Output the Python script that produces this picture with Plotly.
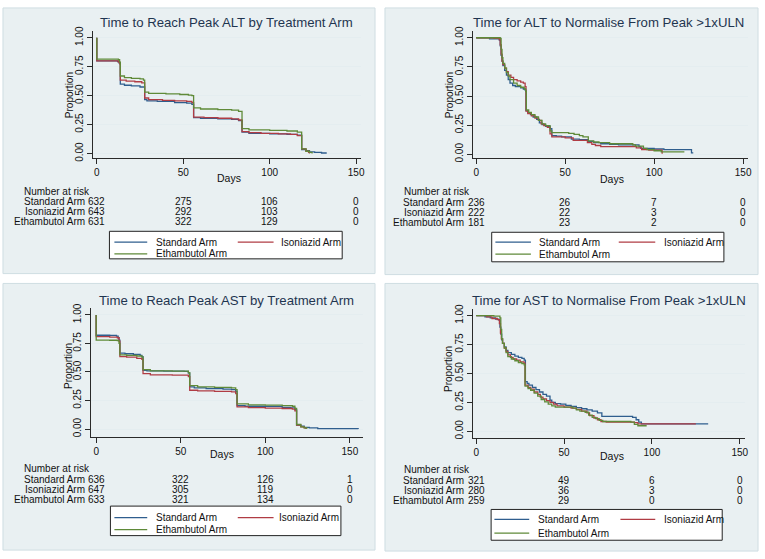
import plotly.graph_objects as go

W, H = 765, 559

# ---------------- data ----------------
arms = ["Standard Arm", "Isoniazid Arm", "Ethambutol Arm"]
titles = ["Time to Reach Peak ALT by Treatment Arm",
          "Time for ALT to Normalise From Peak >1xULN",
          "Time to Reach Peak AST by Treatment Arm",
          "Time for AST to Normalise From Peak >1xULN"]
x_ticks = [0, 50, 100, 150]
risk_times = [0, 50, 100, 150]
y_ticks = [0, 0.25, 0.5, 0.75, 1.0]
y_tick_labels = ["0.00", "0.25", "0.50", "0.75", "1.00"]

# Panel 1: time to reach peak ALT
alt_peak_std_t = [0, 0, 12, 13, 13.6, 16, 20, 25, 27.7, 29, 35, 45, 52, 55, 56, 60, 70, 78, 82, 84, 88, 100, 110, 116, 118.5, 121, 123, 126, 130, 133]
alt_peak_std_s = [1.0, 0.80, 0.795, 0.78, 0.60, 0.59, 0.585, 0.575, 0.465, 0.455, 0.45, 0.44, 0.435, 0.425, 0.31, 0.305, 0.30, 0.295, 0.285, 0.185, 0.175, 0.17, 0.165, 0.16, 0.035, 0.025, 0.015, 0.01, 0.005, 0.005]
alt_peak_iso_t = [0, 0, 12.5, 13.2, 13.6, 17, 22, 26, 27.7, 30, 38, 45, 52, 55, 56, 62, 70, 78, 82, 84, 88, 95, 105, 112, 116, 118.5, 121, 122.5, 123]
alt_peak_iso_s = [1.0, 0.80, 0.79, 0.775, 0.635, 0.625, 0.62, 0.61, 0.48, 0.465, 0.46, 0.455, 0.45, 0.44, 0.315, 0.31, 0.305, 0.30, 0.29, 0.19, 0.18, 0.175, 0.17, 0.165, 0.155, 0.04, 0.02, 0.01, 0.0]
alt_peak_eth_t = [0, 0, 12.5, 13.2, 13.6, 16, 20, 25, 27, 27.7, 30, 40, 48, 53, 55, 56, 60, 70, 78, 82, 84, 88, 100, 110, 116, 118.5, 121, 123, 124.5]
alt_peak_eth_s = [1.0, 0.815, 0.81, 0.79, 0.67, 0.655, 0.65, 0.645, 0.635, 0.53, 0.52, 0.515, 0.51, 0.505, 0.50, 0.395, 0.385, 0.38, 0.375, 0.365, 0.215, 0.205, 0.20, 0.195, 0.185, 0.04, 0.02, 0.01, 0.0]
risk_alt_peak = [[632, 275, 106, 0], [643, 292, 103, 0], [631, 322, 129, 0]]

# Panel 2: time for ALT to normalise
alt_norm_std_t = [0, 7.5, 13, 13.5, 14, 14.5, 15, 16, 17, 18, 19, 20.5, 22, 25, 26.5, 27.5, 28, 29, 30.5, 32, 34, 35.5, 37, 39, 41.5, 42.5, 45, 48, 53.5, 58, 63, 66, 70, 75, 80, 91.5, 92.5, 100, 105.5, 121, 122]
alt_norm_std_s = [1.0, 0.99, 0.98, 0.93, 0.85, 0.80, 0.76, 0.72, 0.68, 0.64, 0.61, 0.59, 0.58, 0.57, 0.56, 0.55, 0.375, 0.355, 0.34, 0.32, 0.30, 0.27, 0.255, 0.24, 0.22, 0.16, 0.155, 0.15, 0.13, 0.125, 0.11, 0.10, 0.09, 0.085, 0.08, 0.065, 0.05, 0.045, 0.04, 0.012, 0.012]
alt_norm_iso_t = [0, 10, 13, 13.5, 14, 14.5, 15, 16, 17, 18, 19.5, 21, 23, 25, 26.5, 27.5, 28, 29, 31, 33, 35, 36.5, 38, 40, 41.5, 42.5, 50, 54.5, 62.5, 65, 67, 70, 90, 93, 97, 104.5]
alt_norm_iso_s = [1.0, 0.995, 0.985, 0.94, 0.86, 0.80, 0.77, 0.74, 0.71, 0.68, 0.66, 0.64, 0.63, 0.62, 0.61, 0.58, 0.37, 0.35, 0.33, 0.31, 0.29, 0.26, 0.245, 0.23, 0.175, 0.15, 0.14, 0.12, 0.10, 0.085, 0.075, 0.065, 0.055, 0.04, 0.035, 0.005]
alt_norm_eth_t = [0, 13.5, 14, 14.5, 15, 16, 17, 18, 19, 21, 23, 25, 27, 27.8, 28.2, 29.5, 31, 33, 35, 37, 39, 41.5, 42.5, 52, 55, 58, 60, 63, 66, 69, 75, 88, 89.5, 94, 96, 100, 104, 117]
alt_norm_eth_s = [1.0, 0.995, 0.90, 0.83, 0.78, 0.74, 0.70, 0.67, 0.64, 0.61, 0.59, 0.575, 0.56, 0.54, 0.38, 0.36, 0.34, 0.32, 0.29, 0.26, 0.245, 0.20, 0.185, 0.18, 0.17, 0.16, 0.15, 0.115, 0.105, 0.10, 0.09, 0.08, 0.07, 0.05, 0.04, 0.03, 0.02, 0.02]
risk_alt_norm = [[236, 26, 7, 0], [222, 22, 3, 0], [181, 23, 2, 0]]

# Panel 3: time to reach peak AST
ast_peak_std_t = [0, 0, 8, 12, 13, 13.5, 14, 17, 22, 26, 27, 27.7, 30, 40, 52, 54.5, 55.3, 58, 65, 75, 80, 82.5, 83.3, 88, 100, 110, 115, 117.5, 118.5, 121, 123, 126, 131, 155]
ast_peak_std_s = [1.0, 0.822, 0.82, 0.815, 0.80, 0.78, 0.665, 0.66, 0.655, 0.645, 0.635, 0.515, 0.51, 0.507, 0.505, 0.49, 0.37, 0.36, 0.355, 0.35, 0.345, 0.33, 0.205, 0.20, 0.198, 0.19, 0.185, 0.17, 0.035, 0.025, 0.015, 0.01, 0.004, 0.002]
ast_peak_iso_t = [0, 0, 8, 12.5, 13.5, 14, 18, 24, 27, 27.7, 32, 45, 54.5, 55.3, 60, 70, 80, 82.5, 83.3, 90, 100, 110, 116, 117.5, 118.5, 121, 123, 124]
ast_peak_iso_s = [1.0, 0.81, 0.805, 0.80, 0.77, 0.635, 0.63, 0.62, 0.61, 0.485, 0.475, 0.472, 0.46, 0.34, 0.335, 0.33, 0.325, 0.31, 0.195, 0.188, 0.184, 0.18, 0.175, 0.16, 0.035, 0.02, 0.01, 0.0]
ast_peak_eth_t = [0, 0, 8, 12.5, 13.5, 14, 18, 24, 27, 27.7, 32, 45, 54.5, 55.3, 60, 70, 80, 82.5, 83.3, 90, 100, 110, 116, 117.5, 118.5, 121, 123, 124.5]
ast_peak_eth_s = [1.0, 0.78, 0.778, 0.775, 0.75, 0.65, 0.645, 0.64, 0.63, 0.52, 0.51, 0.507, 0.495, 0.38, 0.37, 0.365, 0.36, 0.345, 0.22, 0.212, 0.21, 0.205, 0.20, 0.18, 0.04, 0.02, 0.01, 0.0]
risk_ast_peak = [[636, 322, 126, 1], [647, 305, 119, 0], [633, 321, 134, 0]]

# Panel 4: time for AST to normalise
ast_norm_std_t = [0, 5, 8, 11, 13, 13.5, 14, 14.5, 15, 16, 17, 18, 20, 22, 24, 26, 27.3, 28, 29, 30, 32, 34, 36, 38, 40, 42, 43, 45, 48, 51, 54, 57, 60, 63, 66, 69, 71.5, 89, 91, 92.5, 94, 132]
ast_norm_std_s = [1.0, 0.99, 0.98, 0.97, 0.96, 0.90, 0.84, 0.79, 0.76, 0.73, 0.70, 0.68, 0.665, 0.65, 0.64, 0.63, 0.615, 0.43, 0.415, 0.40, 0.38, 0.36, 0.34, 0.32, 0.305, 0.27, 0.25, 0.24, 0.235, 0.225, 0.215, 0.205, 0.195, 0.185, 0.175, 0.16, 0.13, 0.12, 0.10, 0.08, 0.065, 0.065]
ast_norm_iso_t = [0, 6, 9, 12, 13.2, 13.8, 14.3, 15, 16, 17, 18, 19.5, 21, 23, 25, 27.2, 27.8, 29.5, 31, 33, 35, 36.5, 38, 40, 42, 44, 46, 50, 54, 57, 60, 63, 64.5, 67, 69, 71, 74, 90, 92, 125]
ast_norm_iso_s = [1.0, 0.99, 0.975, 0.965, 0.93, 0.85, 0.80, 0.76, 0.72, 0.69, 0.66, 0.64, 0.625, 0.615, 0.60, 0.59, 0.40, 0.38, 0.365, 0.34, 0.32, 0.295, 0.28, 0.265, 0.25, 0.235, 0.22, 0.21, 0.20, 0.19, 0.175, 0.16, 0.135, 0.115, 0.10, 0.085, 0.08, 0.075, 0.065, 0.065]
ast_norm_eth_t = [0, 10, 13.5, 14, 14.5, 15, 16, 17, 18, 20, 22, 24, 26, 27.3, 27.8, 29.5, 31, 33, 35, 37, 39, 41, 43, 45, 55, 57, 59, 62, 64, 66, 68, 70, 72, 88, 90, 92, 97]
ast_norm_eth_s = [1.0, 0.995, 0.98, 0.88, 0.80, 0.76, 0.72, 0.68, 0.645, 0.625, 0.61, 0.595, 0.585, 0.575, 0.39, 0.37, 0.355, 0.33, 0.305, 0.275, 0.255, 0.235, 0.22, 0.21, 0.20, 0.185, 0.175, 0.165, 0.14, 0.12, 0.11, 0.095, 0.085, 0.08, 0.06, 0.048, 0.048]
risk_ast_norm = [[321, 49, 6, 0], [280, 36, 3, 0], [259, 29, 0, 0]]

curves = [
    [(alt_peak_std_t, alt_peak_std_s), (alt_peak_iso_t, alt_peak_iso_s), (alt_peak_eth_t, alt_peak_eth_s)],
    [(alt_norm_std_t, alt_norm_std_s), (alt_norm_iso_t, alt_norm_iso_s), (alt_norm_eth_t, alt_norm_eth_s)],
    [(ast_peak_std_t, ast_peak_std_s), (ast_peak_iso_t, ast_peak_iso_s), (ast_peak_eth_t, ast_peak_eth_s)],
    [(ast_norm_std_t, ast_norm_std_s), (ast_norm_iso_t, ast_norm_iso_s), (ast_norm_eth_t, ast_norm_eth_s)],
]
risks = [risk_alt_peak, risk_alt_norm, risk_ast_peak, risk_ast_norm]

# ---------------- styling / layout geometry (pixels) ----------------
colors = ["#2f5e8e", "#b03c44", "#5f8a38"]
FONT = "Liberation Sans, Arial, sans-serif"
TITLE_COLOR = "#1f3550"
TXT = "#111111"
PANEL_BG = "#e9f0f2"
PANEL_LINE = "#cfdde2"

geo = [
    dict(panel=(3, 3, 377, 273), L=93, R=363, T=26, B=156, x0=97.3, x150=358, y1=33.3, y0=151,
         title=(228, 18), ytitle=(70, 92), days=(230, 176), nar=(22, 189.3), rowx=87.5,
         rows=[199.8, 210.1, 220.4], box=(110, 230, 344, 258), lrows=[241, 253],
         l1=(115, 148, 155), l2=(239, 275, 280)),
    dict(panel=(387, 3, 762, 274), L=475, R=752, T=26, B=156, x0=478.7, x150=747, y1=33.3, y0=151.7,
         title=(612, 18), ytitle=(452, 92), days=(615, 176.5), nar=(404, 190), rowx=468,
         rows=[200.6, 210.9, 221.2], box=(494.3, 231, 727.7, 261), lrows=[241, 253.3],
         l1=(498, 533.7, 539.7), l2=(622, 658.7, 665.3)),
    dict(panel=(3, 283, 377, 554), L=91, R=365, T=308, B=439, x0=96.7, x150=351.7, y1=315, y0=431,
         title=(227.5, 300.7), ytitle=(68.3, 367), days=(223, 456.7), nar=(22, 470.7), rowx=87.5,
         rows=[482.2, 492.5, 502.8], box=(111, 509.3, 342.7, 539.3), lrows=[521, 533.3],
         l1=(115, 148, 155), l2=(239, 275, 278)),
    dict(panel=(387, 283, 762, 555), L=475.3, R=749, T=309, B=440, x0=478.7, x150=743.7, y1=315.7, y0=433.3,
         title=(611.7, 300.7), ytitle=(450.3, 370), days=(615.3, 458.3), nar=(404, 472.5), rowx=468,
         rows=[483.2, 493.5, 503.8], box=(493.7, 512.7, 726, 544), lrows=[522.7, 536.7],
         l1=(497, 532, 539.3), l2=(623.7, 658.7, 665.3)),
]


def fx(x):
    return x / W


def fy(y):
    return 1 - y / H


fig = go.Figure()
shapes = []
annotations = []
layout = dict(width=W, height=H, margin=dict(l=0, r=0, t=0, b=0),
              paper_bgcolor="white", plot_bgcolor="white", showlegend=False,
              font=dict(family=FONT, size=10, color=TXT))

for i, g in enumerate(geo):
    n = i + 1
    xa = "x" if n == 1 else f"x{n}"
    ya = "y" if n == 1 else f"y{n}"
    ppd = (g["x150"] - g["x0"]) / 150.0
    ppy = (g["y0"] - g["y1"])
    xr = [(g["L"] - g["x0"]) / ppd, (g["R"] - g["x0"]) / ppd]
    yr = [(g["y0"] - g["B"]) / ppy, (g["y0"] - g["T"]) / ppy]
    layout[f"xaxis{'' if n == 1 else n}"] = dict(
        domain=[fx(g["L"]), fx(g["R"])], range=xr, anchor=ya,
        showline=True, linecolor="#2a2a2a", linewidth=1, ticks="outside", ticklen=5,
        tickcolor="#2a2a2a", tickvals=x_ticks, showgrid=False, zeroline=False,
        tickfont=dict(size=10, color=TXT, family=FONT), fixedrange=True)
    layout[f"yaxis{'' if n == 1 else n}"] = dict(
        domain=[fy(g["B"]), fy(g["T"])], range=yr, anchor=xa,
        showline=True, linecolor="#2a2a2a", linewidth=1, ticks="outside", ticklen=5,
        tickcolor="#2a2a2a", tickvals=y_ticks, ticktext=y_tick_labels, tickangle=-90,
        showgrid=True, gridcolor="#e4edf0", gridwidth=1, zeroline=False,
        tickfont=dict(size=10, color=TXT, family=FONT), fixedrange=True)

    # panel background
    x0p, y0p, x1p, y1p = g["panel"]
    shapes.append(dict(type="rect", xref="paper", yref="paper", layer="below",
                       x0=fx(x0p), x1=fx(x1p), y0=fy(y1p), y1=fy(y0p),
                       fillcolor=PANEL_BG, line=dict(color=PANEL_LINE, width=1)))

    # curves
    for k, (t, s) in enumerate(curves[i]):
        fig.add_trace(go.Scatter(x=t, y=s, mode="lines", line=dict(color=colors[k], width=1.3, shape="hv"),
                                 xaxis=xa, yaxis=ya, name=arms[k], hoverinfo="skip"))

    # titles
    annotations.append(dict(text=titles[i], x=fx(g["title"][0]), y=fy(g["title"][1]), xref="paper", yref="paper",
                            showarrow=False, xanchor="center", yanchor="middle",
                            font=dict(size=13.2, color=TITLE_COLOR, family=FONT)))
    annotations.append(dict(text="Proportion", x=fx(g["ytitle"][0]), y=fy(g["ytitle"][1]), xref="paper", yref="paper",
                            showarrow=False, xanchor="center", yanchor="middle", textangle=-90,
                            font=dict(size=10, color=TXT, family=FONT)))
    annotations.append(dict(text="Days", x=fx(g["days"][0]), y=fy(g["days"][1]), xref="paper", yref="paper",
                            showarrow=False, xanchor="center", yanchor="middle",
                            font=dict(size=10.5, color=TXT, family=FONT)))
    annotations.append(dict(text="Number at risk", x=fx(g["nar"][0]), y=fy(g["nar"][1]), xref="paper", yref="paper",
                            showarrow=False, xanchor="left", yanchor="middle",
                            font=dict(size=10, color=TXT, family=FONT)))
    for k in range(3):
        ry = fy(g["rows"][k])
        annotations.append(dict(text=arms[k], x=fx(g["rowx"]), y=ry, xref="paper", yref="paper",
                                showarrow=False, xanchor="right", yanchor="middle",
                                font=dict(size=10, color=TXT, family=FONT)))
        for j, tt in enumerate(risk_times):
            annotations.append(dict(text=str(risks[i][k][j]), x=tt, y=ry, xref=xa, yref="paper",
                                    showarrow=False, xanchor="center", yanchor="middle",
                                    font=dict(size=10, color=TXT, family=FONT)))

    # legend box
    bx0, by0, bx1, by1 = g["box"]
    shapes.append(dict(type="rect", xref="paper", yref="paper", x0=fx(bx0), x1=fx(bx1), y0=fy(by1), y1=fy(by0),
                       fillcolor="white", line=dict(color="#222222", width=1)))
    entries = [(g["l1"], g["lrows"][0], 0), (g["l2"], g["lrows"][0], 1), (g["l1"], g["lrows"][1], 2)]
    for (la, lb, tx), ly, k in entries:
        shapes.append(dict(type="line", xref="paper", yref="paper", x0=fx(la), x1=fx(lb), y0=fy(ly), y1=fy(ly),
                           line=dict(color=colors[k], width=1.3)))
        annotations.append(dict(text=arms[k], x=fx(tx), y=fy(ly), xref="paper", yref="paper",
                                showarrow=False, xanchor="left", yanchor="middle",
                                font=dict(size=10, color=TXT, family=FONT)))

layout["shapes"] = shapes
layout["annotations"] = annotations
fig.update_layout(**layout)
fig.write_html("out.html", config={"displayModeBar": False},
               post_script="document.body.style.margin='0';document.body.style.padding='0';"
                           "document.documentElement.style.overflow='hidden';")
